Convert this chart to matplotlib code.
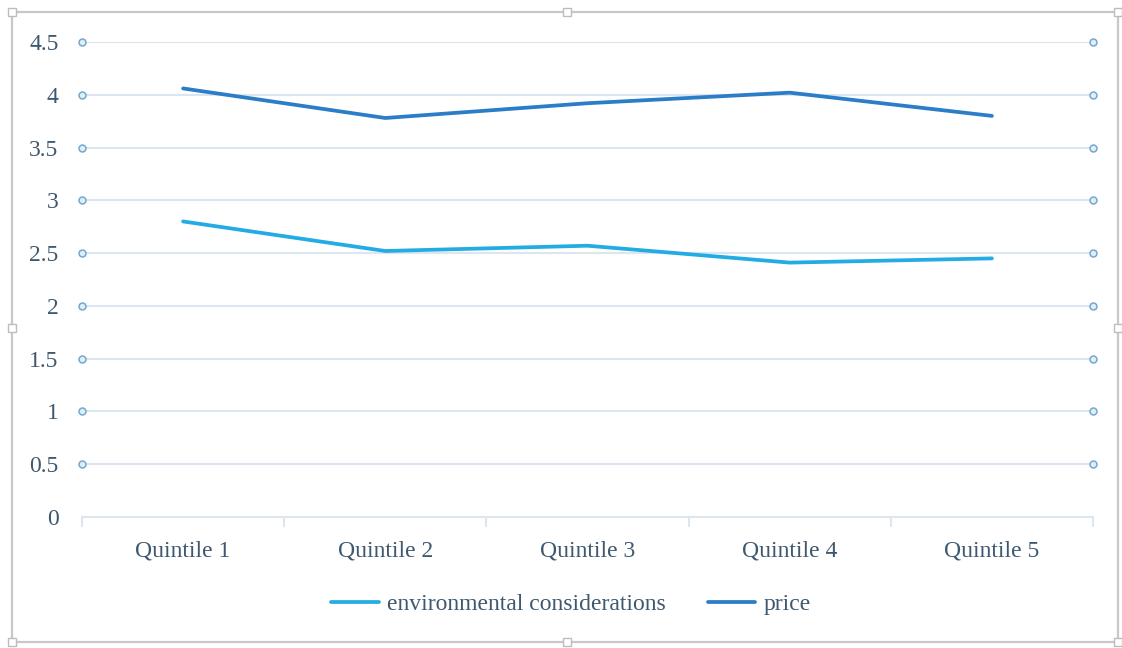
import numpy as np
import matplotlib.pyplot as plt
from matplotlib.patches import Rectangle

categories = ["Quintile 1", "Quintile 2", "Quintile 3", "Quintile 4", "Quintile 5"]
env_values = [2.80, 2.52, 2.57, 2.41, 2.45]
price_values = [4.06, 3.78, 3.92, 4.02, 3.80]
y_ticks = [0, 0.5, 1, 1.5, 2, 2.5, 3, 3.5, 4, 4.5]
y_tick_labels = ["0", "0.5", "1", "1.5", "2", "2.5", "3", "3.5", "4", "4.5"]

text_col = "#3E5870"
grid_col = "#DCE6F0"

plt.rcParams["font.family"] = ["Liberation Serif", "DejaVu Serif"]

fig = plt.figure(figsize=(11.22, 6.48), dpi=100)
ax = fig.add_axes([82 / 1122, 1 - 517 / 648, (1093 - 82) / 1122, (517 - 42) / 648])

x = np.arange(len(categories))
ax.set_xlim(-0.5, len(categories) - 0.5)
ax.set_ylim(0, 4.5)

# horizontal gridlines with small round end handles
for yv in y_ticks[1:]:
    ax.axhline(yv, color=grid_col, lw=1.5, zorder=1)
    ax.plot([-0.5, len(categories) - 0.5], [yv, yv], ls="none", marker="o",
            ms=5, mfc="#D8F1FA", mec="#7AA6CB", mew=1.1, clip_on=False, zorder=3)

ax.plot(x, env_values, color="#22ACE3", lw=2.7, solid_capstyle="round",
        label="environmental considerations", zorder=4)
ax.plot(x, price_values, color="#2A7DC6", lw=2.7, solid_capstyle="round",
        label="price", zorder=4)

for side in ["top", "right", "left"]:
    ax.spines[side].set_visible(False)
ax.spines["bottom"].set_color(grid_col)
ax.spines["bottom"].set_linewidth(1.5)

ax.set_yticks(y_ticks)
ax.set_yticklabels(y_tick_labels)
ax.set_xticks(x)
ax.set_xticklabels(categories)
ax.set_xticks(np.arange(len(categories) + 1) - 0.5, minor=True)
ax.tick_params(axis="y", length=0, pad=17, labelsize=17, labelcolor=text_col)
ax.tick_params(axis="x", which="major", length=0, pad=17, labelsize=17, labelcolor=text_col)
ax.tick_params(axis="x", which="minor", length=7, width=1.5, color=grid_col)

fig.legend(loc="center", bbox_to_anchor=(0.509, 1 - 604 / 648), ncol=2, frameon=False,
           fontsize=17, labelcolor=text_col, handlelength=2.0, handletextpad=0.35,
           columnspacing=1.8)

# chart selection frame with sizing handles
frame = Rectangle((12 / 1122, 1 - 642 / 648), (1118 - 12) / 1122, (642 - 12) / 648,
                  transform=fig.transFigure, fill=False, ec="#C8C8C8", lw=1.6)
fig.patches.append(frame)
for hx, hy in [(12, 12), (567, 12), (1118, 12), (12, 328), (1118, 328),
               (12, 642), (567, 642), (1118, 642)]:
    fig.patches.append(Rectangle(((hx - 4) / 1122, 1 - (hy + 4) / 648), 8 / 1122, 8 / 648,
                                 transform=fig.transFigure, fc="white", ec="#BDBDBD", lw=1))

fig.savefig("out.png", dpi=100)
